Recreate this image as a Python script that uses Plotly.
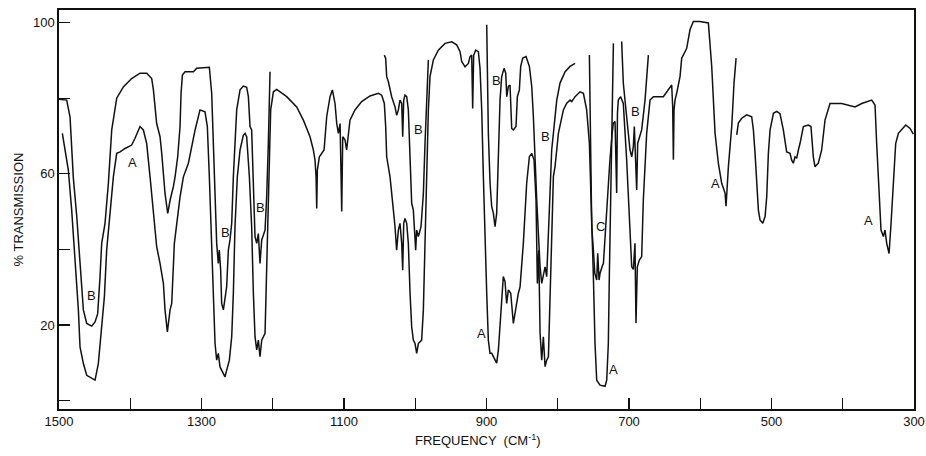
import plotly.graph_objects as go

# ---- spectrum segments (frequency in cm^-1, % transmission) ----
seg_u_x = [1500, 1489.2, 1484.5, 1482.2, 1479.9, 1475.2, 1470.5, 1465.8, 1461.1, 1454.1,
           1449.4, 1445.7, 1442.4, 1440.1, 1435.4, 1430.7, 1426.0, 1419.0, 1409.7, 1398.0,
           1386.3, 1376.9, 1369.9, 1367.5, 1362.9, 1358.2, 1355.8, 1351.2, 1347.4, 1344.1,
           1339.5, 1337.1, 1333.4, 1330.1, 1328.7, 1326.8, 1323.1, 1311.4, 1306.7, 1295.0,
           1289.0, 1285.7, 1283.4, 1281.0, 1278.7, 1276.4, 1275.0, 1273.1, 1271.7, 1269.3,
           1267.0, 1264.7, 1262.3, 1260.0, 1257.6, 1255.3, 1250.6, 1245.9, 1241.3, 1236.6,
           1234.2, 1231.9, 1229.6, 1227.2, 1224.9, 1222.5, 1220.2, 1217.9, 1215.5, 1210.8,
           1208.5, 1206.2, 1203.8]
seg_u_y = [79.7, 79.5, 75.0, 68.0, 59.0, 49.0, 36.3, 24.0, 20.4, 19.7,
           20.8, 23.0, 32.8, 41.6, 46.9, 57.5, 71.6, 80.0, 83.0, 85.2,
           86.6, 86.6, 85.2, 82.2, 73.3, 69.8, 65.4, 54.8, 49.5, 53.0,
           56.6, 59.2, 64.5, 72.5, 81.3, 86.1, 87.0, 87.0, 87.9, 88.2,
           88.2, 81.3, 68.0, 54.8, 41.6, 36.3, 39.8, 34.5, 25.7, 24.0,
           26.6, 30.1, 39.8, 42.5, 46.9, 59.2, 76.9, 82.2, 83.2, 82.9,
           80.4, 72.5, 71.6, 57.5, 43.4, 41.6, 44.2, 36.3, 42.5, 45.1,
           54.0, 68.0, 87.0]

seg_l_x = [1495.3, 1491.6, 1486.9, 1482.2, 1477.5, 1472.8, 1470.5, 1465.8, 1461.1, 1454.1,
           1449.4, 1444.8, 1440.1, 1436.3, 1433.1, 1428.4, 1423.7, 1419.0, 1414.3, 1407.3,
           1398.0, 1393.3, 1386.3, 1381.6, 1376.9, 1372.2, 1367.5, 1362.9, 1358.2, 1353.5,
           1351.2, 1347.9, 1344.1, 1341.8, 1338.1, 1334.8, 1330.1, 1325.4, 1318.4, 1309.0,
           1302.1,
           1295.1, 1291.8, 1289.0, 1285.7, 1283.4, 1281.0, 1278.7, 1276.4, 1274.0, 1269.3,
           1267.0, 1264.7, 1260.9, 1257.6, 1255.3, 1253.0, 1249.7, 1245.9, 1241.3, 1238.9,
           1236.6, 1232.8, 1229.6, 1227.2, 1224.9, 1222.5, 1220.2, 1217.9, 1215.5, 1210.8,
           1208.5, 1206.2, 1204.7, 1202.9, 1199.1, 1194.5, 1180.4, 1166.4, 1157.0, 1147.7,
           1143.0, 1140.7, 1139.2, 1138.3, 1137.4, 1134.6, 1131.3, 1128.0, 1124.3, 1119.6,
           1116.3, 1112.6, 1110.2, 1107.9, 1105.5, 1103.2, 1101.8, 1098.5,
           1096.3, 1091.6, 1084.6, 1075.2, 1063.5, 1051.8, 1047.1, 1043.4, 1041.5, 1040.1,
           1035.4, 1033.1, 1030.7, 1028.4, 1026.1, 1023.7, 1021.4, 1019.0, 1017.6, 1016.2,
           1014.4, 1012.0, 1009.7, 1007.3, 1005.0, 1002.7, 1000.3, 998.0, 995.6, 991.0,
           988.6, 986.3, 983.9, 981.6, 979.3, 974.6, 967.6, 958.2, 948.8, 941.8,
           937.1, 934.8, 930.1, 925.4, 923.1, 920.8, 919.4, 918.0, 915.1, 911.4,
           909.1, 906.7, 904.4, 902.0, 899.7,
           897.4, 895.1, 892.7, 888.0, 885.7, 883.3, 881.0, 878.7, 876.4, 874.0,
           871.7, 869.3, 866.0, 862.3, 858.5, 855.3, 852.9, 848.3, 843.6, 839.8,
           836.5, 833.3, 830.5, 828.6, 826.7, 824.8, 822.5, 820.2, 817.8, 815.5,
           813.1, 810.8, 808.5, 806.1, 803.8, 799.1, 792.1, 787.4, 782.7, 780.4,
           775.7, 768.7, 764.0, 759.4, 755.6, 752.4, 750.0, 747.7, 745.3, 740.7,
           733.6, 731.3, 729.0, 727.6, 725.7, 724.3, 722.9, 721.9]
seg_l_y = [70.7, 66.3, 61.0, 50.4, 37.2, 24.0, 14.2, 9.8, 6.7, 5.9,
           5.4, 9.8, 18.7, 27.5, 39.8, 50.4, 59.2, 65.4, 65.8, 66.7,
           67.6, 69.4, 72.5, 71.6, 68.0, 59.2, 50.4, 40.7, 36.3, 31.0,
           24.0, 18.2, 24.0, 25.7, 41.6, 46.9, 53.9, 59.2, 62.8, 71.6,
           76.9,
           76.4, 72.5, 59.2, 41.6, 28.4, 15.1, 10.7, 12.5, 8.9, 7.2,
           6.3, 8.0, 10.7, 16.9, 28.4, 46.0, 59.2, 66.3, 70.2, 70.7,
           69.8, 59.2, 46.0, 28.4, 16.9, 13.4, 16.0, 11.6, 16.0, 17.8,
           32.8, 50.4, 63.6, 76.9, 81.7, 82.3, 80.4, 77.7, 74.2, 69.8,
           66.3, 63.6, 59.2, 50.8, 61.0, 64.5, 65.4, 66.3, 75.1, 80.4,
           82.2, 78.6, 73.3, 70.7, 73.3, 50.0, 69.8, 68.9,
           66.3, 74.2, 76.9, 79.1, 80.6, 81.3, 80.8, 78.6, 72.5, 64.5,
           59.2, 53.9, 50.4, 46.0, 39.8, 45.1, 46.9, 41.6, 34.5, 46.9,
           48.2, 46.9, 41.6, 28.4, 19.5, 16.0, 15.1, 12.5, 15.1, 16.0,
           24.0, 41.6, 59.2, 76.9, 85.7, 90.1, 92.7, 94.5, 94.9, 94.1,
           92.3, 89.7, 88.3, 89.2, 91.0, 91.4, 77.3, 91.4, 92.7, 92.3,
           87.9, 76.9, 59.2, 41.6, 28.4,
           16.0, 12.5, 12.5, 10.7, 9.9, 13.4, 19.5, 28.0, 32.8, 31.5,
           25.7, 29.3, 28.4, 20.4, 25.0, 28.4, 30.1, 41.6, 57.5, 64.5,
           65.4, 63.7, 53.1, 31.0, 39.8, 17.8, 10.7, 16.9, 9.0, 10.7,
           11.6, 26.6, 44.3, 59.3, 61.9, 70.7, 76.9, 78.7, 79.5, 79.1,
           80.4, 81.7, 81.3, 76.9, 68.0, 50.4, 32.8, 15.1, 5.4, 4.1,
           3.8, 5.4, 15.1, 32.8, 50.4, 68.0, 85.7, 94.5]

seg_b1_x = [1043.4, 1041.5, 1040.1, 1037.8, 1033.1, 1028.4, 1026.1, 1023.7, 1021.4, 1019.0,
            1017.6, 1016.2, 1014.4, 1012.0, 1009.7, 1007.3, 1005.0, 1002.7, 1001.3, 999.4,
            998.0, 995.6, 991.9, 988.6, 986.3, 983.9, 981.6]
seg_b1_y = [91.4, 90.5, 85.7, 84.4, 80.4, 77.7, 75.5, 76.9, 79.5, 78.6,
            69.8, 79.5, 80.8, 80.4, 76.9, 63.6, 52.2, 50.4, 46.9, 39.8,
            45.1, 43.4, 46.0, 54.8, 68.0, 81.3, 90.1]

seg_b2_x = [899.7, 898.8, 897.4, 895.0, 892.7, 890.4, 888.0, 885.7, 883.3, 881.0,
            878.7, 875.4, 873.0, 871.6, 869.3, 867.0, 864.6, 862.3, 858.6, 856.7,
            853.9, 852.0, 849.1, 844.5, 839.8, 836.5, 834.2, 831.9, 829.5, 827.2,
            824.8, 822.5, 820.2, 817.8, 815.5, 813.1, 810.8, 808.5, 806.1, 801.4,
            796.8, 789.7, 782.7, 775.7]
seg_b2_y = [99.4, 88.4, 70.7, 57.5, 51.3, 49.6, 46.0, 49.6, 63.7, 79.5,
            85.7, 87.9, 86.6, 80.4, 83.1, 83.5, 72.0, 71.6, 72.5, 80.4,
            82.2, 88.4, 90.6, 91.0, 88.4, 83.1, 75.1, 61.9, 53.1, 44.3,
            35.4, 31.0, 33.7, 35.4, 32.8, 44.3, 53.1, 66.3, 70.7, 79.5,
            84.0, 87.0, 88.4, 89.2]

seg_c_x = [755.6, 754.5, 753.5, 752.3, 750.0, 748.0, 745.3, 743.9, 742.0, 740.6,
           737.8, 735.9, 733.0, 730.0, 727.0, 724.0, 722.0, 719.6, 717.3, 716.2,
           715.0, 711.7, 708.0, 703.3, 698.6, 696.2, 693.9, 691.6, 690.2, 688.3,
           685.5, 682.2, 679.9, 675.2, 670.5, 665.8, 651.8, 644.8, 640.1, 638.7,
           637.7, 636.8, 635.4, 633.1, 630.7, 628.4, 626.0, 619.0, 614.4, 609.7,
           600.3, 588.6, 583.9, 579.2, 574.6, 569.9, 565.2, 563.8, 560.5, 555.8,
           552.6, 549.7]
seg_c_y = [91.4, 76.9, 59.2, 46.0, 39.8, 33.7, 31.9, 39.0, 31.9, 33.7,
           35.4, 36.3, 45.0, 55.0, 63.0, 70.0, 73.4, 73.8, 54.9, 76.0,
           79.5, 80.4, 78.6, 63.7, 44.3, 35.4, 34.7, 41.6, 20.5, 35.4,
           37.2, 38.1, 53.0, 70.7, 79.5, 80.4, 80.4, 82.2, 83.5, 77.8,
           63.7, 76.9, 79.5, 81.3, 84.0, 85.7, 90.6, 93.2, 98.1, 100.3,
           100.3, 99.9, 88.4, 70.7, 62.8, 57.5, 54.9, 51.4, 61.9, 72.5,
           84.0, 90.6]

seg_b3_x = [710.3, 708.0, 703.3, 698.6, 696.2, 693.9, 692.5, 691.2, 689.2, 687.8,
            685.5, 682.2, 677.5, 675.2, 672.8]
seg_b3_y = [95.0, 84.0, 75.1, 66.3, 64.5, 67.2, 72.5, 67.2, 55.7, 68.1,
            69.8, 71.6, 79.5, 84.8, 91.4]

seg_r_x = [548.8, 546.5, 541.8, 534.8, 527.8, 525.4, 523.1, 520.7, 518.4, 516.1,
           512.3, 509.0, 506.7, 504.4, 502.0, 497.3, 492.7, 488.1, 483.4, 478.7,
           474.0, 471.7, 469.4, 467.0, 464.7, 462.3, 460.0, 455.3, 448.3, 444.6,
           441.3, 439.0, 434.3, 429.6, 424.9, 417.9, 401.5, 382.8, 373.4, 359.4,
           354.7, 352.4, 349.1, 346.3, 343.0, 340.7, 338.3, 335.0, 332.2, 329.0,
           325.7, 321.9, 317.2, 311.6, 305.5, 301.0]
seg_r_y = [70.3, 73.4, 74.7, 75.6, 75.1, 71.6, 65.4, 56.6, 50.4, 47.8,
           46.9, 48.7, 54.0, 65.4, 71.6, 76.0, 76.5, 75.9, 71.6, 65.8,
           65.4, 63.6, 62.8, 64.5, 64.1, 66.3, 68.0, 72.5, 72.9, 72.5,
           64.5, 61.9, 62.8, 66.3, 74.2, 78.6, 78.6, 77.7, 78.6, 79.5,
           78.2, 68.0, 53.9, 45.1, 43.4, 45.1, 41.6, 38.9, 46.9, 59.2,
           68.0, 70.7, 71.6, 72.9, 72.0, 70.5]

# ---- band labels ----
label_text = ["B", "A", "B", "B", "B", "B", "A", "B", "C", "A", "B", "A", "A"]
label_x = [1453.7, 1397.5, 1267.0, 1217.9, 995.7, 885.7, 906.5, 817.9, 740.7, 721.5, 690.5, 579.2, 364.1]
label_y = [27.7, 63.1, 44.6, 51.2, 71.6, 84.8, 17.8, 69.8, 46.0, 8.2, 76.5, 57.5, 47.7]

# ---- axis ticks ----
x_tick_vals = [1500, 1300, 1100, 900, 700, 500, 300]
x_tick_text = ["1500", "1300", "1100", "900", "700", "500", "300"]
x_minor_step = 100
y_tick_vals = [20, 60, 100]
y_tick_text = ["20", "60", "100"]
y_minor_step = 20

segments = [(seg_u_x, seg_u_y), (seg_l_x, seg_l_y), (seg_b1_x, seg_b1_y),
            (seg_b2_x, seg_b2_y), (seg_c_x, seg_c_y), (seg_b3_x, seg_b3_y),
            (seg_r_x, seg_r_y)]
for sx, sy in segments:
    assert len(sx) == len(sy), (len(sx), len(sy))

FONT = "Liberation Sans Narrow, Liberation Sans, Arial, sans-serif"
INK = "#111111"

fig = go.Figure()
for sx, sy in segments:
    fig.add_trace(go.Scatter(x=sx, y=sy, mode="lines",
                             line=dict(color=INK, width=1.5),
                             hoverinfo="skip", showlegend=False))

for t, lx, ly in zip(label_text, label_x, label_y):
    fig.add_annotation(x=lx, y=ly, text=t, showarrow=False,
                       font=dict(family="Liberation Sans, Arial, sans-serif", size=13, color=INK),
                       xanchor="center", yanchor="middle")

fig.add_annotation(xref="paper", yref="paper", x=0.49, y=0, yshift=-31,
                   text="FREQUENCY  (CM<sup>-1</sup>)", showarrow=False,
                   font=dict(family=FONT, size=13, color=INK),
                   xanchor="center", yanchor="middle")
fig.add_annotation(xref="paper", yref="paper", x=0, xshift=-41, y=0.5,
                   text="% TRANSMISSION", showarrow=False, textangle=-90,
                   font=dict(family=FONT, size=13, color=INK),
                   xanchor="center", yanchor="middle")

fig.update_xaxes(range=[1500, 300], tickvals=x_tick_vals, ticktext=x_tick_text,
                 ticks="inside", ticklen=11, tickwidth=1.3, tickcolor=INK,
                 minor=dict(dtick=x_minor_step, tick0=0, ticks="inside", ticklen=11,
                            tickwidth=1.3, tickcolor=INK, showgrid=False),
                 showline=True, linecolor=INK, linewidth=1.6, mirror=True,
                 showgrid=False, zeroline=False, automargin=False,
                 tickfont=dict(family=FONT, size=13, color=INK))
fig.update_yaxes(range=[-2.22, 103.33], tickvals=y_tick_vals, ticktext=y_tick_text,
                 ticks="inside", ticklen=11, tickwidth=1.3, tickcolor=INK,
                 minor=dict(dtick=y_minor_step, tick0=0, ticks="inside", ticklen=11,
                            tickwidth=1.3, tickcolor=INK, showgrid=False),
                 showline=True, linecolor=INK, linewidth=1.6, mirror=True,
                 showgrid=False, zeroline=False, automargin=False,
                 tickfont=dict(family=FONT, size=13, color=INK))

fig.update_layout(width=926, height=456,
                  margin=dict(l=59, r=12, t=10, b=47, autoexpand=False),
                  paper_bgcolor="white", plot_bgcolor="white",
                  showlegend=False, hovermode=False)

# remove the default 8px page margin so the figure sits at the window origin
fig.write_html("out.html",
               config={"displayModeBar": False, "staticPlot": True},
               post_script="document.body.style.margin='0';document.body.style.overflow='hidden';")
